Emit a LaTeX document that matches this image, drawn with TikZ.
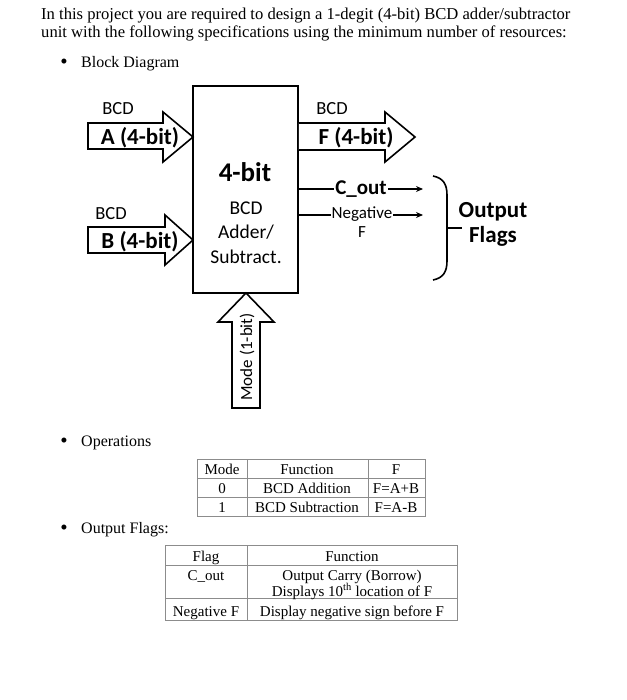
\documentclass[tikz,border=0pt]{standalone}
\usepackage{fontspec}
\setmainfont{Liberation Serif}
\newfontfamily\diagfont{Carlito}
\usepackage{tikz}
\usetikzlibrary{arrows.meta}
\tikzset{
  txt/.style    = {inner sep=0pt, anchor=base west, font=\fontsize{16}{19}\selectfont},
  head/.style   = {inner sep=0pt, anchor=base west, font=\fontsize{16.6}{19}\selectfont},
  bul/.style    = {inner sep=0pt, anchor=base, font=\fontsize{21}{24}\selectfont},
  lbl/.style    = {inner sep=0pt, anchor=base, font=\diagfont\fontsize{18.5}{22}\selectfont},
  bus/.style    = {inner sep=0pt, anchor=base, font=\diagfont\bfseries\fontsize{23}{27}\selectfont},
  mid/.style    = {inner sep=0pt, anchor=base, font=\diagfont\fontsize{19.5}{23}\selectfont},
  fat/.style    = {draw=black, line width=1.6pt, line join=miter, fill=white},
  blkbox/.style = {draw=black, line width=1.8pt, minimum width=105pt, minimum height=207pt, inner sep=0pt},
  sig/.style    = {-{Stealth[length=7pt,width=6pt]}, line width=1.3pt},
  cell/.style   = {inner sep=0pt, anchor=base, font=\fontsize{15}{18}\selectfont},
  grid/.style   = {draw=black!45, line width=0.9pt},
}
\begin{document}
\begin{tikzpicture}[x=1pt,y=-1pt]
  \useasboundingbox (0,0) rectangle (626,700);
  % heading
  \node[head] (t1) at (41,20) {In this project you are required to design a 1-degit (4-bit) BCD adder/subtractor};
  \node[head] (t2) at (41,38) {unit with the following specifications using the minimum number of resources:};
  \node[bul] (b1) at (64,69) {\textbullet};
  \node[txt] (s1) at (81,68) {Block Diagram};

  % block
  \node[blkbox] (adder) at (245.5,189.5) {};
  \node[inner sep=0pt, anchor=base, font=\diagfont\bfseries\fontsize{27}{32}\selectfont] (title) at (245,182) {4-bit};
  \node[mid] (m1) at (246,215) {BCD};
  \node[mid] (m2) at (246,239) {Adder/};
  \node[mid] (m3) at (246,263) {Subtract.};

  % bus inputs
  \draw[fat] (88,123) -- (163,123) -- (163,112) -- (193,137) -- (163,162) -- (163,149) -- (88,149) -- cycle;
  \draw[fat] (88,227) -- (165,227) -- (165,215) -- (193,240) -- (165,265) -- (165,253) -- (88,253) -- cycle;
  \node[lbl] (bcda) at (118,115) {BCD};
  \node[bus] (ina) at (140,145) {A (4-bit)};
  \node[lbl] (bcdb) at (111,220) {BCD};
  \node[bus] (inb) at (140,248) {B (4-bit)};

  % bus output
  \draw[fat] (adder.east |- 0,123) -- (385,123) -- (385,112) -- (415,137) -- (385,162) -- (385,150) -- (adder.east |- 0,150);
  \node[lbl] (bcdf) at (332,115) {BCD};
  \node[bus] (outf) at (356,145) {F (4-bit)};

  % mode input
  \draw[fat] (232,408) -- (232,322) -- (218,322) -- (246,293) -- (274,322) -- (260,322) -- (260,408) -- cycle;
  \node[inner sep=0pt, rotate=90, font=\diagfont\fontsize{17}{20}\selectfont] (mode) at (247,357) {Mode (1-bit)};

  % flags
  \coordinate (cend) at (423,189);
  \coordinate (nend) at (423,215);
  \draw[sig] (adder.east |- cend) -- (cend);
  \draw[sig] (adder.east |- nend) -- (nend);
  \node[inner sep=1pt, fill=white, anchor=base, font=\diagfont\bfseries\fontsize{21}{25}\selectfont] (cout) at (361,195) {C\_out};
  \node[inner sep=1pt, fill=white, anchor=base, font=\diagfont\fontsize{17}{20}\selectfont] (neg) at (362,219) {Negative};
  \node[inner sep=0pt, anchor=base, font=\diagfont\fontsize{17}{20}\selectfont] (negf) at (362,238) {F};
  \draw[line width=1.6pt] (433,176) .. controls (443,178) and (447,184) .. (447,195) -- (447,261)
    .. controls (447,272) and (443,278) .. (433,280);
  \draw[line width=1.6pt] (447,228) -- (462,228);
  \node[inner sep=0pt, anchor=base, font=\diagfont\bfseries\fontsize{23}{25}\selectfont] (flags) at (493,218) {Output};
  \node[inner sep=0pt, anchor=base, font=\diagfont\bfseries\fontsize{23}{25}\selectfont] (flags2) at (493,243) {Flags};

  % operations table
  \node[bul] (b2) at (64,447) {\textbullet};
  \node[txt] (s2) at (81,446) {Operations};
  \draw[grid] (197,459) rectangle (425,516);
  \draw[grid] (197,478) -- (425,478);
  \draw[grid] (197,497) -- (425,497);
  \draw[grid] (247,459) -- (247,516);
  \draw[grid] (368,459) -- (368,516);
  \node[cell] (h1) at (222,474) {Mode};
  \node[cell] (h2) at (307,474) {Function};
  \node[cell] (h3) at (396,474) {F};
  \node[cell] (r11) at (222,493) {0};
  \node[cell] (r12) at (307,493) {BCD Addition};
  \node[cell] (r13) at (396,493) {F=A+B};
  \node[cell] (r21) at (222,512) {1};
  \node[cell] (r22) at (307,512) {BCD Subtraction};
  \node[cell] (r23) at (396,512) {F=A-B};

  % flags table
  \node[bul] (b3) at (64,534) {\textbullet};
  \node[txt] (s3) at (81,533) {Output Flags:};
  \draw[grid] (165,545) rectangle (457,620);
  \draw[grid] (165,565) -- (457,565);
  \draw[grid] (165,598) -- (457,598);
  \draw[grid] (247,545) -- (247,620);
  \node[cell] (f1) at (206,561) {Flag};
  \node[cell] (f2) at (352,561) {Function};
  \node[cell] (g1) at (206,580) {C\_out};
  \node[cell] (g2) at (352,580) {Output Carry (Borrow)};
  \node[cell] (g3) at (352,596) {Displays 10\textsuperscript{th} location of F};
  \node[cell] (n1) at (206,616) {Negative F};
  \node[cell] (n2) at (352,616) {Display negative sign before F};
\end{tikzpicture}
\end{document}
